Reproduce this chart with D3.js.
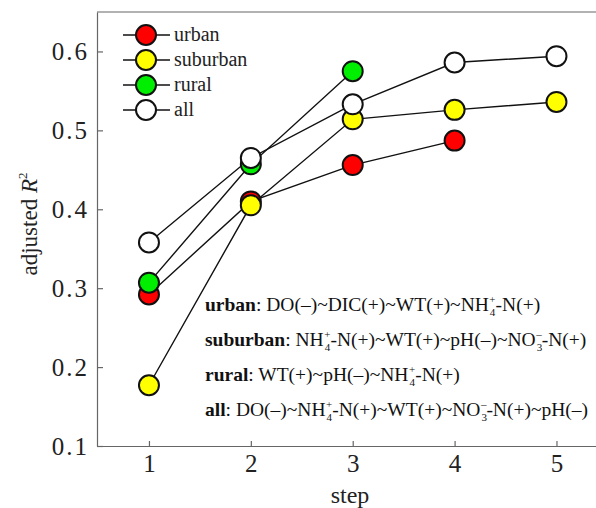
<!DOCTYPE html>
<html><head><meta charset="utf-8">
<script src="https://cdn.jsdelivr.net/npm/d3@7"></script>
<style>body{margin:0;background:#fff}svg{display:block;font-family:"Liberation Serif","Times New Roman",serif}</style>
</head><body>
<svg id="c" width="596" height="508"></svg>
<script>
const steps = [1, 2, 3, 4, 5];
const seriesNames = ["urban", "suburban", "rural", "all"];
const seriesColors = ["#ff0000", "#ffff00", "#00ee00", "#ffffff"];
const urban = [0.292, 0.410, 0.456, 0.487];
const suburban = [0.177, 0.405, 0.514, 0.526, 0.536];
const rural = [0.307, 0.457, 0.575];
const allSites = [0.358, 0.465, 0.533, 0.586, 0.594];
const yTicks = [0.1, 0.2, 0.3, 0.4, 0.5, 0.6];
const xTicks = [1, 2, 3, 4, 5];
// annotation parts: [text] = normal, [sub, sup] = stacked sub/superscript
const notes = [
  {label: "urban", parts: [["DO(–)~DIC(+)~WT(+)~NH"], ["4", "+"], ["-N(+)"]]},
  {label: "suburban", parts: [["NH"], ["4", "+"], ["-N(+)~WT(+)~pH(–)~NO"], ["3", "–"], ["-N(+)"]]},
  {label: "rural", parts: [["WT(+)~pH(–)~NH"], ["4", "+"], ["-N(+)"]]},
  {label: "all", parts: [["DO(–)~NH"], ["4", "+"], ["-N(+)~WT(+)~NO"], ["3", "–"], ["-N(+)~pH(–)"]]}
];
const seriesData = [urban, suburban, rural, allSites];

const svg = d3.select("#c");
const x = d3.scaleLinear().domain([0.49, 5.388]).range([97, 596]);
const y = d3.scaleLinear().domain([0.1, 0.65]).range([446, 12]);
const axisColor = "#666";
const txt = "#222";

// frame: top line
svg.append("line").attr("x1", 97).attr("x2", 596).attr("y1", y(0.65)).attr("y2", y(0.65))
  .attr("stroke", axisColor).attr("stroke-width", 1.2);

const gx = svg.append("g").attr("transform", `translate(0,${y(0.1)})`)
  .call(d3.axisBottom(x).tickValues(xTicks).tickFormat(d3.format("d")).tickSizeInner(-5).tickSizeOuter(0).tickPadding(8));
const gy = svg.append("g").attr("transform", `translate(${x(0.49)},0)`)
  .call(d3.axisLeft(y).tickValues(yTicks).tickFormat(d3.format(".1f")).tickSizeInner(-6).tickSizeOuter(0).tickPadding(8));
[gx, gy].forEach(g => {
  g.select(".domain").attr("stroke", axisColor).attr("stroke-width", 1.2);
  g.selectAll(".tick line").attr("stroke", axisColor).attr("stroke-width", 1.2);
  g.selectAll(".tick text").attr("fill", txt).style("font-size", "25px")
    .style("font-family", '"Liberation Serif",serif');
});
gy.selectAll(".tick text").style("letter-spacing", "2px");

svg.append("text").attr("x", 350).attr("y", 503).attr("text-anchor", "middle")
  .style("font-size", "24px").attr("fill", txt).text("step");
const yt = svg.append("text").attr("transform", "translate(37,224) rotate(-90)").attr("text-anchor", "middle")
  .style("font-size", "23px").attr("fill", txt);
yt.append("tspan").text("adjusted ");
yt.append("tspan").style("font-style", "italic").text("R");
yt.append("tspan").attr("dy", -10).style("font-size", "13px").text("2");

// lines
const line = d3.line().x((d, i) => x(steps[i])).y(d => y(d));
seriesData.forEach(s => {
  svg.append("path").attr("d", line(s)).attr("fill", "none").attr("stroke", "#111").attr("stroke-width", 1.4);
});
// markers
seriesData.forEach((s, k) => {
  svg.append("g").selectAll("circle").data(s).join("circle")
    .attr("cx", (d, i) => x(steps[i])).attr("cy", d => y(d)).attr("r", 10)
    .attr("fill", seriesColors[k]).attr("stroke", "#111").attr("stroke-width", 2);
});

// legend
seriesNames.forEach((n, k) => {
  const ly = 35 + k * 25;
  svg.append("line").attr("x1", 123).attr("x2", 170).attr("y1", ly).attr("y2", ly).attr("stroke", "#111").attr("stroke-width", 1.4);
  svg.append("circle").attr("cx", 146).attr("cy", ly).attr("r", 10).attr("fill", seriesColors[k]).attr("stroke", "#111").attr("stroke-width", 2);
  svg.append("text").attr("x", 174).attr("y", ly + 6).style("font-size", "20px").attr("fill", txt).text(n);
});

// annotations
notes.forEach((nt, k) => {
  const t = svg.append("text").attr("x", 205).attr("y", 311 + k * 35).style("font-size", "19.5px").attr("fill", "#111");
  t.append("tspan").style("font-weight", "bold").text(nt.label);
  t.append("tspan").text(": ");
  let pendingDy = 0;
  nt.parts.forEach(p => {
    if (p.length === 1) {
      t.append("tspan").attr("dy", pendingDy).text(p[0]);
      pendingDy = 0;
    } else {
      t.append("tspan").attr("dx", 1).attr("dy", pendingDy + 5).style("font-size", "11px").text(p[0]);
      t.append("tspan").attr("dx", -6).attr("dy", -13).style("font-size", "11px").text(p[1]);
      pendingDy = 8;
    }
  });
});
</script>
</body></html>
